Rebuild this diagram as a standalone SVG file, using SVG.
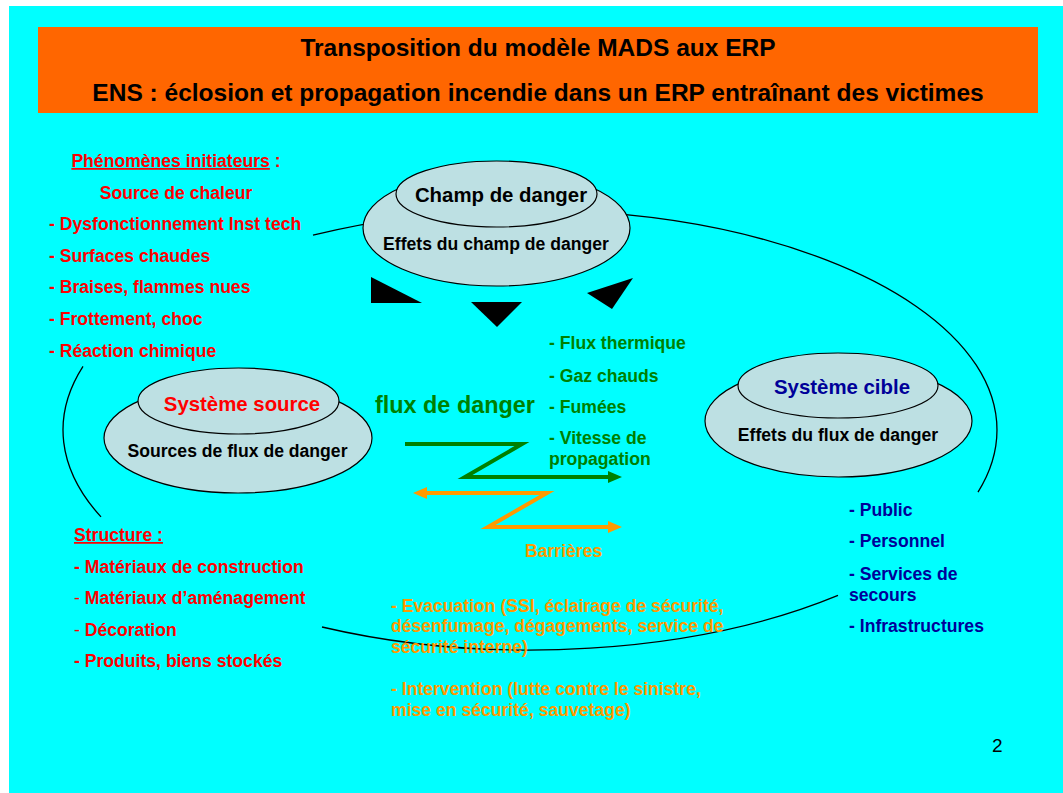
<svg xmlns="http://www.w3.org/2000/svg" width="1063" height="793" viewBox="0 0 1063 793">
<style>
text{font-family:"Liberation Sans",Arial,sans-serif;font-weight:bold;font-size:17.6px}
.title{font-size:24.5px;fill:#000;text-anchor:middle}
.red{fill:#ff0000}
.green{fill:#008000}
.blue{fill:#000099}
.orange{fill:#ff9900}
.blk{fill:#000}
.mid{text-anchor:middle}
.big{font-size:20.4px}
.ell{fill:#bde0e3;stroke:#000;stroke-width:1.2}
.arc{fill:none;stroke:#000;stroke-width:1.3}
.thin{font-weight:normal}
</style>
<defs>
<marker id="hg" markerUnits="userSpaceOnUse" markerWidth="14" markerHeight="12" refX="4" refY="6" orient="auto-start-reverse"><path d="M0,0 L14,6 L0,12 z" fill="#008000"/></marker>
<marker id="ho" markerUnits="userSpaceOnUse" markerWidth="14" markerHeight="12" refX="4" refY="6" orient="auto-start-reverse"><path d="M0,0 L14,6 L0,12 z" fill="#ff9900"/></marker>
</defs>
<rect x="0" y="0" width="1063" height="793" fill="#ffffff"/>
<rect x="9" y="6" width="1054" height="787" fill="#00ffff"/>
<g id="banner">
<rect x="38" y="27" width="1000" height="86" fill="#ff6600"/>
<text class="title" x="538" y="56">Transposition du modèle MADS aux ERP</text>
<text class="title" x="538" y="101">ENS : éclosion et propagation incendie dans un ERP entraînant des victimes</text>
</g>
<g id="connectors">
<path class="arc" d="M313,235.2 A467,220 0 0 1 978,492.1"/>
<path class="arc" d="M83,366.3 A467,220 0 0 0 101,516.9"/>
<path class="arc" d="M322,627 A467,220 0 0 0 838,595.4"/>
<polygon points="371,277 371,303 422,303" fill="#000"/>
<polygon points="471,302 522,302 497,327" fill="#000"/>
<polygon points="587,293 633,278 612,309" fill="#000"/>
<polyline points="405,444 522,444 465,477 612,477" fill="none" stroke="#008000" stroke-width="4" marker-end="url(#hg)"/>
<polyline points="423,493 547,493 488,527 612,527" fill="none" stroke="#ff9900" stroke-width="4" marker-start="url(#ho)" marker-end="url(#ho)"/>
</g>
<g id="champ">
<ellipse class="ell" cx="496.5" cy="228" rx="133.5" ry="58"/>
<ellipse class="ell" cx="496.5" cy="194" rx="100.5" ry="33"/>
<text class="blk big mid" x="501" y="202">Champ de danger</text>
<text class="blk mid" x="496" y="250">Effets du champ de danger</text>
</g>
<g id="source">
<ellipse class="ell" cx="238" cy="438" rx="134" ry="55"/>
<ellipse class="ell" cx="238.5" cy="401" rx="100.5" ry="33"/>
<text class="red big mid" x="242" y="411">Système source</text>
<text class="blk mid" x="237.5" y="457">Sources de flux de danger</text>
</g>
<g id="cible">
<ellipse class="ell" cx="838.5" cy="421" rx="133.5" ry="56"/>
<ellipse class="ell" cx="838" cy="385.5" rx="100" ry="32.5"/>
<text class="blue big mid" x="842" y="394">Système cible</text>
<text class="blk mid" x="838" y="441">Effets du flux de danger</text>
</g>
<g id="initiateurs">
<text class="red mid" x="176" y="167"><tspan text-decoration="underline">Phénomènes initiateurs</tspan> :</text>
<text class="red mid" x="176" y="199">Source de chaleur</text>
<text class="red" x="49" y="230">- Dysfonctionnement Inst tech</text>
<text class="red" x="49" y="262">- Surfaces chaudes</text>
<text class="red" x="49" y="293">- Braises, flammes nues</text>
<text class="red" x="49" y="325">- Frottement, choc</text>
<text class="red" x="49" y="357">- Réaction chimique</text>
</g>
<g id="structure">
<text class="red" x="74" y="541" text-decoration="underline">Structure :</text>
<text class="red" x="74" y="573">- Matériaux de construction</text>
<text class="red" x="74" y="604"><tspan class="thin">-</tspan> Matériaux d’aménagement</text>
<text class="red" x="74" y="636"><tspan class="thin">-</tspan> Décoration</text>
<text class="red" x="74" y="667">- Produits, biens stockés</text>
</g>
<g id="flux">
<text class="green" x="375" y="413" style="font-size:23.4px">flux de danger</text>
<text class="green" x="549" y="349">- Flux thermique</text>
<text class="green" x="549" y="382">- Gaz chauds</text>
<text class="green" x="549" y="413">- Fumées</text>
<text class="green" x="549" y="444">- Vitesse de</text>
<text class="green" x="549" y="465">propagation</text>
</g>
<g id="barrieres">
<text class="orange" x="525" y="557">Barrières</text>
<text class="orange" x="391" y="612">- Evacuation (SSI, éclairage de sécurité,</text>
<text class="orange" x="391" y="632">désenfumage, dégagements, service de</text>
<text class="orange" x="391" y="653">sécurité interne)</text>
<text class="orange" x="391" y="695">- Intervention (lutte contre le sinistre,</text>
<text class="orange" x="391" y="716">mise en sécurité, sauvetage)</text>
</g>
<g id="cibles">
<text class="blue" x="849" y="516">- Public</text>
<text class="blue" x="849" y="547">- Personnel</text>
<text class="blue" x="849" y="580">- Services de</text>
<text class="blue" x="849" y="601">secours</text>
<text class="blue" x="849" y="632">- Infrastructures</text>
</g>
<text x="992" y="752" style="font-weight:normal;font-size:19px;fill:#000">2</text>
</svg>
